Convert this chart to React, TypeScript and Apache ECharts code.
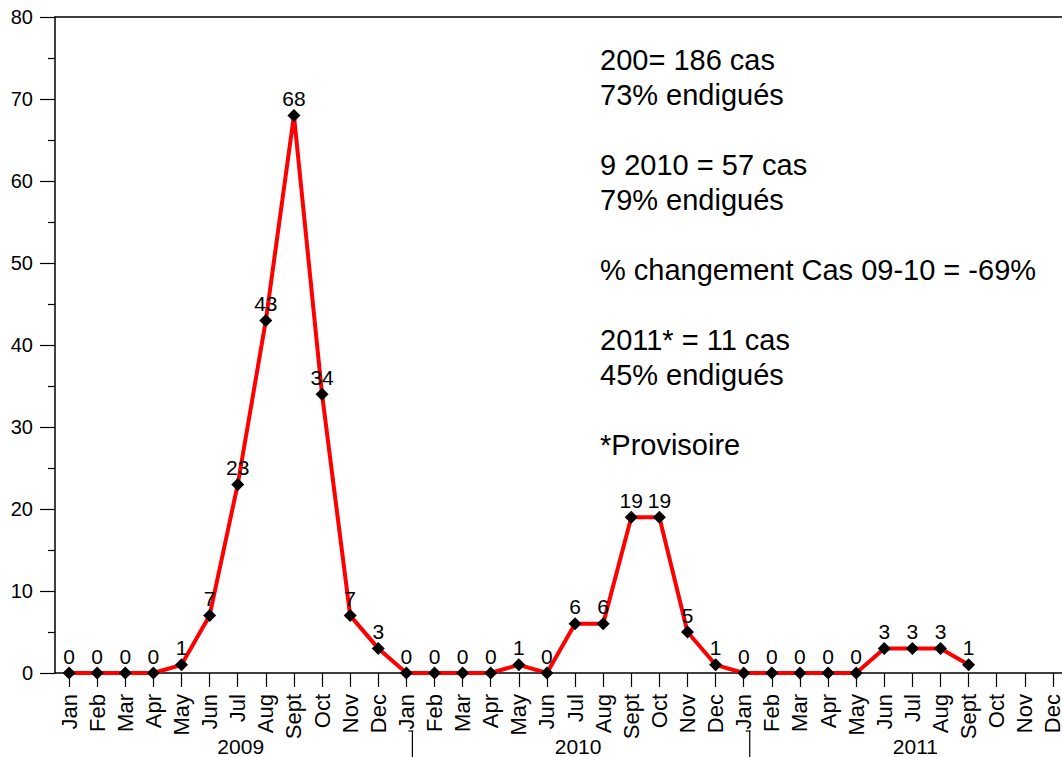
import React, { useEffect, useRef } from "react";
import * as echarts from "echarts";

const months = ["Jan", "Feb", "Mar", "Apr", "May", "Jun", "Jul", "Aug", "Sept", "Oct", "Nov", "Dec"];
const years = ["2009", "2010", "2011"];
const categories: string[] = [...months, ...months, ...months];

const cases2009 = [0, 0, 0, 0, 1, 7, 23, 43, 68, 34, 7, 3];
const cases2010 = [0, 0, 0, 0, 1, 0, 6, 6, 19, 19, 5, 1];
const cases2011 = [0, 0, 0, 0, 0, 3, 3, 3, 1, null, null, null];
const values = [...cases2009, ...cases2010, ...cases2011];

const yTicks = { min: 0, max: 80, interval: 10 };

const noteLines = [
  "200= 186 cas",
  "73% endigués",
  "",
  "9 2010 = 57 cas",
  "79% endigués",
  "",
  "% changement Cas 09-10 = -69%",
  "",
  "2011* = 11 cas",
  "45% endigués",
  "",
  "*Provisoire",
];

const FONT = "'Liberation Sans', Arial, sans-serif";

export default function App() {
  const ref = useRef<HTMLDivElement>(null);
  useEffect(() => {
    document.body.style.margin = "0";
    const chart = echarts.init(ref.current!, null, { renderer: "svg" });
    const option: any = {
      animation: false,
      backgroundColor: "#ffffff",
      textStyle: { fontFamily: FONT },
      grid: { left: 55, top: 17, width: 1012, height: 656 },
      xAxis: [
        {
          type: "category",
          data: categories,
          boundaryGap: true,
          axisLine: { show: true, lineStyle: { color: "#000", width: 1.5 } },
          axisTick: { show: true, alignWithLabel: true, length: 14, lineStyle: { color: "#000", width: 1.2 } },
          axisLabel: {
            interval: 0,
            rotate: 90,
            margin: 21,
            color: "#000",
            fontSize: 22,
            fontFamily: FONT,
          },
          splitLine: { show: false },
        },
        {
          type: "category",
          data: categories,
          position: "top",
          axisLine: { show: true, lineStyle: { color: "#000", width: 1.5 } },
          axisTick: { show: false },
          axisLabel: { show: false },
        },
      ],
      yAxis: {
        type: "value",
        min: yTicks.min,
        max: yTicks.max,
        interval: yTicks.interval,
        axisLine: { show: true, lineStyle: { color: "#000", width: 1.5 } },
        axisTick: { show: true, length: 15, lineStyle: { color: "#000", width: 1.2 } },
        minorTick: { show: true, splitNumber: 2, length: 7, lineStyle: { color: "#000", width: 1.2 } },
        axisLabel: { color: "#000", fontSize: 20, margin: 22, fontFamily: FONT },
        splitLine: { show: false },
      },
      series: [
        {
          type: "line",
          data: values,
          connectNulls: false,
          symbol: "diamond",
          symbolSize: 13,
          lineStyle: { color: "#ff0000", width: 4 },
          itemStyle: { color: "#000" },
          label: {
            show: true,
            position: "top",
            distance: 0,
            color: "#000",
            fontSize: 21,
            fontFamily: FONT,
          },
          z: 3,
        },
      ],
    };
    chart.setOption(option);

    const graphics: any[] = [];
    years.forEach((y, i) => {
      const x = (chart.convertToPixel({ xAxisIndex: 0 }, i * 12 + 6) as number) + 3;
      graphics.push({
        type: "text",
        x: x,
        y: 746,
        style: { text: y, fontSize: 21, fontFamily: FONT, fill: "#000", align: "center", verticalAlign: "middle" },
      });
    });
    [12, 24].forEach((idx) => {
      const x = (chart.convertToPixel({ xAxisIndex: 0 }, idx) as number) + 6;
      graphics.push({
        type: "line",
        shape: { x1: x, y1: 731, x2: x, y2: 757 },
        style: { stroke: "#000", lineWidth: 1.2 },
      });
      graphics.push({
        type: "line",
        shape: { x1: x - 4, y1: 731, x2: x + 1, y2: 731 },
        style: { stroke: "#000", lineWidth: 1.2 },
      });
    });
    graphics.push({
      type: "text",
      x: 600,
      y: 42,
      style: {
        text: noteLines.join("\n"),
        fontSize: 29,
        lineHeight: 35,
        fontFamily: FONT,
        fill: "#000",
        align: "left",
        verticalAlign: "top",
      },
    });
    chart.setOption({ graphic: graphics });

    return () => chart.dispose();
  }, []);
  return (
    <div style={{ width: 1062, height: 757, overflow: "hidden", position: "relative" }}>
      <div ref={ref} style={{ width: 1090, height: 757 }} />
    </div>
  );
}
